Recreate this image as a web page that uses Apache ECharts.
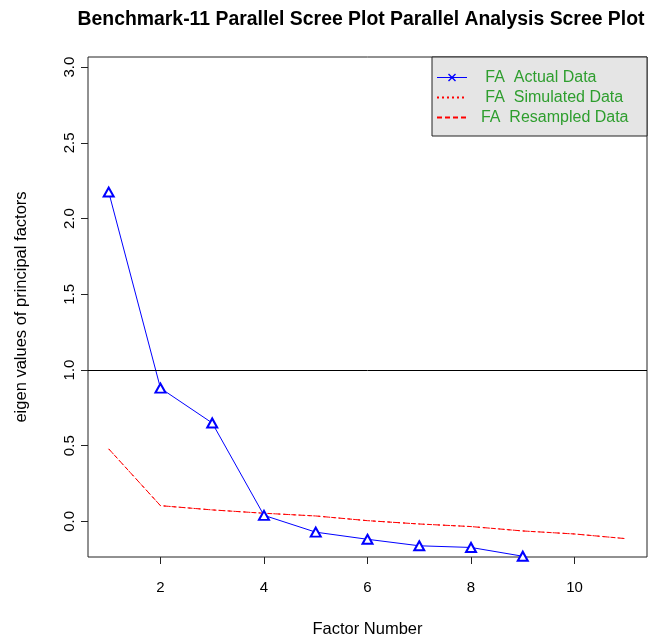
<!DOCTYPE html>
<html>
<head>
<meta charset="utf-8">
<script src="https://cdn.jsdelivr.net/npm/echarts@6/dist/echarts.min.js"></script>
<style>
html,body{margin:0;padding:0;background:#fff;}
#chart{width:659px;height:639px;}
</style>
</head>
<body>
<div id="chart"></div>
<script>
// ---- data ----
const factorNumbers = [1, 2, 3, 4, 5, 6, 7, 8, 9, 10, 11];
const actualData = [2.175, 0.88, 0.65, 0.04, -0.071, -0.118, -0.161, -0.172, -0.23];
const simulatedData = [0.479, 0.104, 0.076, 0.054, 0.036, 0.005, -0.017, -0.034, -0.063, -0.083, -0.114];
const resampledData = [0.479, 0.104, 0.076, 0.054, 0.036, 0.005, -0.017, -0.034, -0.063, -0.083, -0.114];
const xTicks = [2, 4, 6, 8, 10];
const yTicks = [0, 0.5, 1.0, 1.5, 2.0, 2.5, 3.0];
const referenceLine = 1;
const seriesNames = ['FA  Actual Data', 'FA  Simulated Data', 'FA  Resampled Data'];
const titleText = 'Benchmark-11 Parallel Scree Plot Parallel Analysis Scree Plot';
const xName = 'Factor Number';
const yName = 'eigen values of principal factors';

function pairs(vals) { return vals.map((v, i) => [factorNumbers[i], v]); }

const FONT = 'Liberation Sans, Arial, sans-serif';
const crossIcon = 'path://M0 6.4 H30 V7.6 H0 Z M11 4 L12 3 L19 10 L18 11 Z M18 3 L19 4 L12 11 L11 10 Z';

const chart = echarts.init(document.getElementById('chart'), null, {renderer: 'canvas'});
chart.setOption({
  animation: false,
  backgroundColor: '#ffffff',
  title: {
    text: titleText,
    left: 356,
    textAlign: 'center',
    top: 5,
    textStyle: {fontFamily: FONT, fontWeight: 'bold', fontSize: 19.4, color: '#000'}
  },
  grid: {
    left: 88, right: 12, top: 57, bottom: 82,
    outerBoundsMode: 'none', containLabel: false,
    show: true, borderColor: '#222', borderWidth: 1, backgroundColor: 'transparent'
  },
  legend: {
    orient: 'vertical',
    left: 432, top: 57,
    padding: [12.5, 18.5, 10.5, 4],
    itemWidth: 30, itemHeight: 14, itemGap: 4,
    backgroundColor: '#e5e5e5', borderColor: '#222', borderWidth: 1,
    selectedMode: false,
    textStyle: {fontFamily: FONT, fontSize: 16, color: '#2e9e2e'},
    formatter: function (name) {
      return name === seriesNames[2] ? '  ' + name : '   ' + name;
    },
    data: [
      {name: seriesNames[0], icon: crossIcon},
      {name: seriesNames[1], itemStyle: {opacity: 0}},
      {name: seriesNames[2], itemStyle: {opacity: 0}}
    ]
  },
  xAxis: {
    type: 'value', min: 0.6, max: 11.4,
    name: xName, nameLocation: 'middle', nameGap: 64,
    nameTextStyle: {fontFamily: FONT, fontSize: 16.5, color: '#000'},
    axisLine: {show: false, onZero: false},
    axisTick: {show: true, length: 7, lineStyle: {color: '#222'}, customValues: xTicks},
    axisLabel: {fontFamily: FONT, fontSize: 15, color: '#000', margin: 23, customValues: xTicks},
    splitLine: {show: false}
  },
  yAxis: {
    type: 'value', min: -0.235, max: 3.067,
    name: yName, nameLocation: 'middle', nameGap: 58,
    nameTextStyle: {fontFamily: FONT, fontSize: 16.5, color: '#000'},
    axisLine: {show: false, onZero: false},
    axisTick: {show: true, length: 7, lineStyle: {color: '#222'}, customValues: yTicks},
    axisLabel: {fontFamily: FONT, fontSize: 15, color: '#000', margin: 11, rotate: 90,
      customValues: yTicks, formatter: v => v.toFixed(1)},
    splitLine: {show: false}
  },
  series: [
    {
      name: seriesNames[0], type: 'line', data: pairs(actualData),
      symbol: 'emptyTriangle', symbolSize: [10, 9],
      itemStyle: {color: '#0000ff', borderWidth: 1},
      lineStyle: {color: '#0000ff', width: 1},
      clip: true, z: 3,
      markLine: {
        silent: true, symbol: 'none', label: {show: false},
        lineStyle: {color: '#000', width: 1, type: 'solid'},
        data: [{yAxis: referenceLine}]
      }
    },
    {
      name: seriesNames[1], type: 'line', data: pairs(simulatedData),
      symbol: 'none', itemStyle: {color: '#ff0000'},
      lineStyle: {color: '#ff0000', width: 1, type: [2, 3]}, clip: true
    },
    {
      name: seriesNames[2], type: 'line', data: pairs(resampledData),
      symbol: 'none', itemStyle: {color: '#ff0000'},
      lineStyle: {color: '#ff0000', width: 1, type: [5, 3]}, clip: true
    }
  ]
});
</script>
</body>
</html>
